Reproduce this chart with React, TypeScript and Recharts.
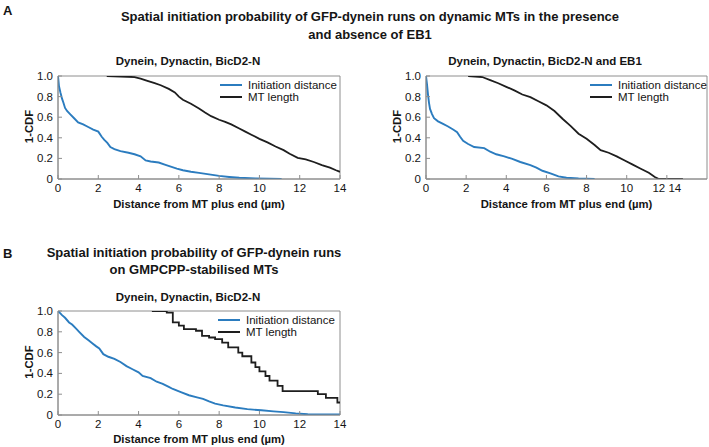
import React from 'react';
import { LineChart, Line, XAxis, YAxis, ReferenceArea, Legend } from 'recharts';

const FONT = '"Liberation Sans", Arial, Helvetica, sans-serif';
const BLUE = '#2b7cbf';
const BLACK = '#1e1e1e';
const AXIS = '#8e8e8e';
const TEXT = '#151515';

const seriesNames = ['Initiation distance', 'MT length'];
const xAxisTitle = 'Distance from MT plus end (µm)';
const yAxisTitle = '1-CDF';

const yTicks = [0, 0.2, 0.4, 0.6, 0.8, 1.0];
const yTickLabels = ['0', '0.2', '0.4', '0.6', '0.8', '1.0'];
const xTicksFull = [0, 2, 4, 6, 8, 10, 12, 14];
const xTickLabelsFull = ['0', '2', '4', '6', '8', '10', '12', '14'];
const xTicksA2 = [0, 2, 4, 6, 8, 10, 12];
const xTickLabelsA2 = ['0', '2', '4', '6', '8', '10', '12 14'];

// Panel A, left: Dynein, Dynactin, BicD2-N
const aLeftInitiation = [
  { x: 0, y: 1 }, { x: 0.05, y: 0.9 }, { x: 0.12, y: 0.84 }, { x: 0.2, y: 0.78 },
  { x: 0.27, y: 0.74 }, { x: 0.35, y: 0.69 }, { x: 0.45, y: 0.66 }, { x: 0.6, y: 0.63 },
  { x: 0.8, y: 0.59 }, { x: 1.0, y: 0.55 }, { x: 1.25, y: 0.53 }, { x: 1.5, y: 0.505 },
  { x: 1.75, y: 0.48 }, { x: 2.0, y: 0.46 }, { x: 2.17, y: 0.41 }, { x: 2.3, y: 0.38 },
  { x: 2.45, y: 0.35 }, { x: 2.6, y: 0.31 }, { x: 2.8, y: 0.29 }, { x: 3.1, y: 0.27 },
  { x: 3.5, y: 0.255 }, { x: 3.8, y: 0.24 }, { x: 4.1, y: 0.22 }, { x: 4.35, y: 0.18 },
  { x: 4.6, y: 0.17 }, { x: 5.0, y: 0.16 }, { x: 5.3, y: 0.14 }, { x: 5.6, y: 0.12 },
  { x: 5.9, y: 0.1 }, { x: 6.2, y: 0.085 }, { x: 6.6, y: 0.07 }, { x: 7.0, y: 0.06 },
  { x: 7.5, y: 0.045 }, { x: 8.0, y: 0.03 }, { x: 8.5, y: 0.02 }, { x: 9.0, y: 0.012 },
  { x: 9.8, y: 0.006 }, { x: 10.5, y: 0.003 }, { x: 11.1, y: 0 },
];
const aLeftMtLength = [
  { x: 2.42, y: 1 }, { x: 3.8, y: 0.99 }, { x: 4.1, y: 0.975 }, { x: 4.4, y: 0.955 },
  { x: 4.8, y: 0.93 }, { x: 5.1, y: 0.91 }, { x: 5.5, y: 0.875 }, { x: 5.8, y: 0.84 },
  { x: 6.0, y: 0.8 }, { x: 6.2, y: 0.77 }, { x: 6.6, y: 0.73 }, { x: 7.0, y: 0.685 },
  { x: 7.3, y: 0.645 }, { x: 7.6, y: 0.61 }, { x: 8.0, y: 0.575 }, { x: 8.3, y: 0.555 },
  { x: 8.6, y: 0.53 }, { x: 9.0, y: 0.49 }, { x: 9.3, y: 0.46 }, { x: 9.6, y: 0.43 },
  { x: 10.0, y: 0.39 }, { x: 10.4, y: 0.355 }, { x: 10.8, y: 0.315 }, { x: 11.2, y: 0.28 },
  { x: 11.5, y: 0.245 }, { x: 11.9, y: 0.205 }, { x: 12.3, y: 0.19 }, { x: 12.7, y: 0.165 },
  { x: 13.1, y: 0.135 }, { x: 13.5, y: 0.11 }, { x: 13.8, y: 0.085 }, { x: 14, y: 0.07 },
];

// Panel A, right: Dynein, Dynactin, BicD2-N and EB1
const aRightInitiation = [
  { x: 0, y: 1 }, { x: 0.05, y: 0.92 }, { x: 0.1, y: 0.82 }, { x: 0.15, y: 0.74 },
  { x: 0.2, y: 0.68 }, { x: 0.3, y: 0.63 }, { x: 0.4, y: 0.59 }, { x: 0.6, y: 0.56 },
  { x: 0.85, y: 0.535 }, { x: 1.1, y: 0.51 }, { x: 1.35, y: 0.48 }, { x: 1.55, y: 0.455 },
  { x: 1.7, y: 0.41 }, { x: 1.85, y: 0.37 }, { x: 2.1, y: 0.34 }, { x: 2.4, y: 0.31 },
  { x: 2.9, y: 0.3 }, { x: 3.2, y: 0.265 }, { x: 3.5, y: 0.24 }, { x: 3.9, y: 0.22 },
  { x: 4.3, y: 0.195 }, { x: 4.7, y: 0.165 }, { x: 5.2, y: 0.135 }, { x: 5.5, y: 0.11 },
  { x: 5.8, y: 0.08 }, { x: 6.2, y: 0.055 }, { x: 6.6, y: 0.025 }, { x: 7.0, y: 0.012 },
  { x: 7.6, y: 0.005 }, { x: 8.4, y: 0 },
];
const aRightMtLength = [
  { x: 2.1, y: 1 }, { x: 2.8, y: 0.99 }, { x: 3.2, y: 0.96 }, { x: 3.6, y: 0.93 },
  { x: 4.0, y: 0.895 }, { x: 4.4, y: 0.86 }, { x: 4.8, y: 0.82 }, { x: 5.2, y: 0.795 },
  { x: 5.6, y: 0.755 }, { x: 6.0, y: 0.715 }, { x: 6.4, y: 0.66 }, { x: 6.8, y: 0.585 },
  { x: 7.2, y: 0.515 }, { x: 7.6, y: 0.44 }, { x: 8.0, y: 0.39 }, { x: 8.4, y: 0.33 },
  { x: 8.7, y: 0.28 }, { x: 9.1, y: 0.255 }, { x: 9.5, y: 0.22 }, { x: 9.9, y: 0.18 },
  { x: 10.3, y: 0.14 }, { x: 10.7, y: 0.1 }, { x: 11.1, y: 0.06 }, { x: 11.4, y: 0.02 },
  { x: 11.6, y: 0 }, { x: 12.8, y: 0 },
];

// Panel B: GMPCPP-stabilised MTs
const bInitiation = [
  { x: 0, y: 1 }, { x: 0.2, y: 0.96 }, { x: 0.35, y: 0.935 }, { x: 0.55, y: 0.89 },
  { x: 0.7, y: 0.87 }, { x: 0.9, y: 0.83 }, { x: 1.05, y: 0.8 }, { x: 1.3, y: 0.75 },
  { x: 1.5, y: 0.72 }, { x: 1.7, y: 0.69 }, { x: 1.9, y: 0.66 }, { x: 2.05, y: 0.64 },
  { x: 2.25, y: 0.585 }, { x: 2.5, y: 0.56 }, { x: 2.8, y: 0.54 }, { x: 3.1, y: 0.51 },
  { x: 3.4, y: 0.47 }, { x: 3.7, y: 0.44 }, { x: 4.0, y: 0.41 }, { x: 4.2, y: 0.375 },
  { x: 4.6, y: 0.355 }, { x: 4.9, y: 0.32 }, { x: 5.2, y: 0.3 }, { x: 5.5, y: 0.27 },
  { x: 5.7, y: 0.25 }, { x: 6.1, y: 0.22 }, { x: 6.5, y: 0.19 }, { x: 6.9, y: 0.17 },
  { x: 7.2, y: 0.155 }, { x: 7.5, y: 0.13 }, { x: 7.8, y: 0.11 }, { x: 8.2, y: 0.093 },
  { x: 8.8, y: 0.072 }, { x: 9.4, y: 0.056 }, { x: 10.1, y: 0.045 }, { x: 10.7, y: 0.035 },
  { x: 11.2, y: 0.028 }, { x: 11.8, y: 0.016 }, { x: 12.4, y: 0.007 }, { x: 14, y: 0.006 },
];
const bMtLength = [
  { x: 4.66, y: 1 }, { x: 5.4, y: 0.985 }, { x: 5.7, y: 0.89 }, { x: 6.0, y: 0.86 },
  { x: 6.25, y: 0.825 }, { x: 6.85, y: 0.81 }, { x: 7.15, y: 0.76 }, { x: 7.5, y: 0.745 },
  { x: 7.8, y: 0.73 }, { x: 8.15, y: 0.695 }, { x: 8.45, y: 0.65 }, { x: 8.95, y: 0.6 },
  { x: 9.15, y: 0.565 }, { x: 9.6, y: 0.505 }, { x: 9.8, y: 0.46 }, { x: 10.0, y: 0.42 },
  { x: 10.3, y: 0.375 }, { x: 10.5, y: 0.33 }, { x: 10.9, y: 0.28 }, { x: 11.15, y: 0.23 },
  { x: 12.9, y: 0.2 }, { x: 13.3, y: 0.165 }, { x: 13.87, y: 0.12 }, { x: 14, y: 0.12 },
];

const makeXTick = (ticks: number[], labels: string[]) => (props: any) => {
  const { x, y, payload } = props;
  const i = ticks.indexOf(payload.value);
  return (
    <g>
      <line x1={x} x2={x} y1={y} y2={y - 4} stroke={AXIS} strokeWidth={1} />
      <text x={x} y={y + 13} textAnchor="middle" fontSize={11.5} fontFamily={FONT} fill={TEXT}>
        {labels[i]}
      </text>
    </g>
  );
};

const YTick = (props: any) => {
  const { x, y, payload } = props;
  const i = yTicks.indexOf(payload.value);
  return (
    <g>
      <line x1={x} x2={x + 4} y1={y} y2={y} stroke={AXIS} strokeWidth={1} />
      <text x={x - 5} y={y + 4} textAnchor="end" fontSize={11.5} fontFamily={FONT} fill={TEXT}>
        {yTickLabels[i]}
      </text>
    </g>
  );
};

const YTitle = (props: any) => {
  const vb = props.viewBox;
  const cx = vb.x + vb.width - 29.5;
  const cy = vb.y + vb.height / 2 - 1;
  return (
    <text
      x={cx}
      y={cy}
      transform={`rotate(-90 ${cx} ${cy})`}
      textAnchor="middle"
      dominantBaseline="central"
      fontSize={11.3}
      fontWeight="bold"
      fontFamily={FONT}
      fill={TEXT}
    >
      {yAxisTitle}
    </text>
  );
};

const LegendContent = (props: any) => {
  const { payload } = props;
  return (
    <div style={{ fontFamily: FONT, fontSize: 11.5, color: TEXT }}>
      {(payload || []).map((p: any) => (
        <div key={p.value} style={{ display: 'flex', alignItems: 'center', height: 12, whiteSpace: 'nowrap' }}>
          <span style={{ display: 'inline-block', width: 22, height: 2, background: p.color, marginRight: 6 }} />
          <span>{p.value}</span>
        </div>
      ))}
    </div>
  );
};

type PanelProps = {
  left: number;
  top: number;
  width: number;
  height: number;
  yAxisWidth: number;
  marginRight: number;
  xAxisHeight: number;
  xTicks: number[];
  xLabels: string[];
  initiation: { x: number; y: number }[];
  mtLength: { x: number; y: number }[];
  initiationType: 'linear' | 'stepAfter';
  mtType: 'linear' | 'stepAfter';
  legendLeft: number;
  legendTop: number;
};

function Panel(p: PanelProps) {
  return (
    <div style={{ position: 'absolute', left: p.left, top: p.top }}>
      <LineChart width={p.width} height={p.height} margin={{ top: 10, right: p.marginRight, bottom: 0, left: 0 }}>
        <XAxis
          type="number"
          dataKey="x"
          domain={[0, 14]}
          ticks={p.xTicks}
          interval={0}
          tickSize={0}
          tickMargin={0}
          tickLine={false}
          axisLine={{ stroke: AXIS }}
          tick={makeXTick(p.xTicks, p.xLabels)}
          height={p.xAxisHeight}
          allowDataOverflow
          label={{
            value: xAxisTitle,
            position: 'insideBottom',
            offset: 8,
            fill: TEXT,
            fontSize: 11.3,
            fontWeight: 'bold',
            fontFamily: FONT,
          }}
        />
        <YAxis
          type="number"
          domain={[0, 1]}
          ticks={yTicks}
          interval={0}
          tickSize={0}
          tickMargin={0}
          tickLine={false}
          axisLine={{ stroke: AXIS }}
          tick={YTick}
          width={p.yAxisWidth}
          allowDataOverflow
          label={<YTitle />}
        />
        <ReferenceArea x1={0} x2={14} y1={0} y2={1} fill="none" stroke={AXIS} strokeWidth={1} />
        <Legend
          layout="vertical"
          align="center"
          verticalAlign="middle"
          content={<LegendContent />}
          wrapperStyle={{ left: p.legendLeft, top: p.legendTop, width: 'auto', height: 'auto' }}
        />
        <Line
          data={p.initiation}
          dataKey="y"
          name={seriesNames[0]}
          type={p.initiationType}
          stroke={BLUE}
          strokeWidth={1.9}
          dot={false}
          isAnimationActive={false}
        />
        <Line
          data={p.mtLength}
          dataKey="y"
          name={seriesNames[1]}
          type={p.mtType}
          stroke={BLACK}
          strokeWidth={1.8}
          dot={false}
          isAnimationActive={false}
        />
      </LineChart>
    </div>
  );
}

const textBase: React.CSSProperties = {
  position: 'absolute',
  fontFamily: FONT,
  fontWeight: 'bold',
  color: TEXT,
  whiteSpace: 'nowrap',
  lineHeight: 1,
};

export default function App() {
  return (
    <div style={{ position: 'absolute', left: 0, top: 0, width: 709, height: 447, background: '#fff', overflow: 'hidden' }}>
      <div style={{ ...textBase, left: 3, top: 4, fontSize: 13 }}>A</div>
      <div style={{ ...textBase, left: 70, width: 600, top: 8, fontSize: 13, textAlign: 'center', lineHeight: '18px' }}>
        Spatial initiation probability of GFP-dynein runs on dynamic MTs in the presence
        <br />
        and absence of EB1
      </div>
      <div style={{ ...textBase, left: 88, width: 200, top: 56, fontSize: 11.5, textAlign: 'center' }}>
        Dynein, Dynactin, BicD2-N
      </div>
      <div style={{ ...textBase, left: 445, width: 200, top: 56, fontSize: 11.5, textAlign: 'center' }}>
        Dynein, Dynactin, BicD2-N and EB1
      </div>

      <Panel
        left={0}
        top={66}
        width={350}
        height={150}
        yAxisWidth={58}
        marginRight={10}
        xAxisHeight={37}
        xTicks={xTicksFull}
        xLabels={xTickLabelsFull}
        initiation={aLeftInitiation}
        mtLength={aLeftMtLength}
        initiationType="linear"
        mtType="linear"
        legendLeft={220}
        legendTop={13}
      />
      <Panel
        left={360}
        top={66}
        width={349}
        height={150}
        yAxisWidth={66}
        marginRight={2}
        xAxisHeight={37}
        xTicks={xTicksA2}
        xLabels={xTickLabelsA2}
        initiation={aRightInitiation}
        mtLength={aRightMtLength}
        initiationType="linear"
        mtType="linear"
        legendLeft={230}
        legendTop={13}
      />

      <div style={{ ...textBase, left: 3, top: 247, fontSize: 13 }}>B</div>
      <div style={{ ...textBase, left: 44, width: 300, top: 244, fontSize: 13, textAlign: 'center', lineHeight: '17px' }}>
        Spatial initiation probability of GFP-dynein runs
        <br />
        on GMPCPP-stabilised MTs
      </div>
      <div style={{ ...textBase, left: 88, width: 200, top: 292, fontSize: 11.5, textAlign: 'center' }}>
        Dynein, Dynactin, BicD2-N
      </div>

      <Panel
        left={0}
        top={301}
        width={350}
        height={150}
        yAxisWidth={58}
        marginRight={10}
        xAxisHeight={36}
        xTicks={xTicksFull}
        xLabels={xTickLabelsFull}
        initiation={bInitiation}
        mtLength={bMtLength}
        initiationType="linear"
        mtType="stepAfter"
        legendLeft={218}
        legendTop={13}
      />
    </div>
  );
}
